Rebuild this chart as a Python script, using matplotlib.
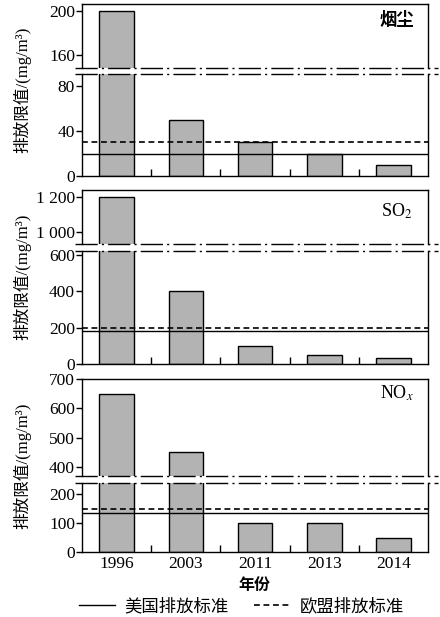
import matplotlib.pyplot as plt
from matplotlib.lines import Line2D

plt.rcParams['font.family'] = ['Liberation Serif', 'Noto Sans CJK SC']
plt.rcParams['mathtext.fontset'] = 'stix'

# data
years = ['1996', '2003', '2011', '2013', '2014']
smoke = [200, 50, 30, 20, 10]
so2 = [1200, 400, 100, 50, 35]
nox = [650, 450, 100, 100, 50]
us_std = [20, 184, 135]   # 美国排放标准
eu_std = [30, 200, 150]   # 欧盟排放标准
names = ['烟尘', 'SO$_2$', 'NO$_x$']

W, H = 440, 617
fig = plt.figure(figsize=(W / 100, H / 100), dpi=100)


def px_axes(left, top, right, bottom):
    return fig.add_axes([left / W, 1 - bottom / H, (right - left) / W, (bottom - top) / H])


# pixel layout for each panel: upper top, upper bottom, lower top, lower bottom
layout = [(4, 68, 74, 176), (190, 244.3, 250.7, 364), (379.3, 476, 482.7, 552.3)]
upper_lim = [(148, 206), (927, 1242), (368, 700)]
lower_lim = [(0, 90.7), (0, 624), (0, 240)]
upper_ticks = [[160, 200], [1000, 1200], [400, 500, 600, 700]]
lower_ticks = [[0, 40, 80], [0, 200, 400, 600], [0, 100, 200]]
name_pos = [0.75, 0.60, 0.86]
values = [smoke, so2, nox]

x = list(range(len(years)))
bar_kw = dict(width=0.5, color='#b3b3b3', edgecolor='black', linewidth=1.0, zorder=2)
dash = (0, (3.5, 2.2))

for i in range(3):
    ut, ub, lt, lb = layout[i]
    ax_u = px_axes(82, ut, 428, ub)
    ax_l = px_axes(82, lt, 428, lb)
    for ax in (ax_u, ax_l):
        ax.bar(x, values[i], **bar_kw)
        ax.set_xlim(-0.5, 4.5)
        for s in ax.spines.values():
            s.set_linewidth(1.0)
        ax.tick_params(axis='y', direction='out', length=4, width=1.0, labelsize=12.5, pad=1)
    ax_u.set_ylim(*upper_lim[i])
    ax_l.set_ylim(*lower_lim[i])
    ax_u.set_yticks(upper_ticks[i])
    ax_l.set_yticks(lower_ticks[i])
    if i == 1:
        ax_u.set_yticklabels(['1 000', '1 200'])
    ax_u.spines['bottom'].set_visible(False)
    ax_l.spines['top'].set_visible(False)
    ax_u.set_xticks([])

    ax_l.set_xticks(x)
    ax_l.set_xticks([0.5, 1.5, 2.5, 3.5], minor=True)
    ax_l.tick_params(axis='x', which='major', length=0, labelsize=12.5, pad=3)
    ax_l.tick_params(axis='x', which='minor', direction='in', length=5, width=1.0)
    if i < 2:
        ax_l.set_xticklabels([])
    else:
        ax_l.set_xticklabels(years)

    ax_l.axhline(us_std[i], color='black', linewidth=1.0, zorder=3)
    ax_l.axhline(eu_std[i], color='black', linewidth=1.2, linestyle=dash, zorder=3)

    ax_u.text(0.91, name_pos[i], names[i], transform=ax_u.transAxes, ha='center', va='center',
              fontsize=13 if i else 12.5, fontweight='bold' if i == 0 else 'normal')

    # break marks
    for yb in (ub, lt):
        fig.add_artist(Line2D([75 / W, 438 / W], [1 - yb / H, 1 - yb / H],
                              transform=fig.transFigure, color='black', linewidth=1.0,
                              linestyle=(0, (16, 3, 1.5, 3))))

    fig.text(22 / W, 1 - (ut + lb) / 2 / H, '排放限值/(mg/m³)', rotation=90,
             ha='center', va='center', fontsize=12)

fig.text(254 / W, 1 - 586 / H, '年份', ha='center', va='center', fontsize=11.5, fontweight='bold')

handles = [Line2D([], [], color='black', linewidth=1.0),
           Line2D([], [], color='black', linewidth=1.2, linestyle=dash)]
fig.legend(handles, ['美国排放标准', '欧盟排放标准'], loc='center',
           bbox_to_anchor=(0.548, 1 - 607 / H), ncol=2, frameon=False, fontsize=12.5,
           handlelength=2.1, handletextpad=0.5, columnspacing=1.5)

fig.savefig('out.png', dpi=100)
